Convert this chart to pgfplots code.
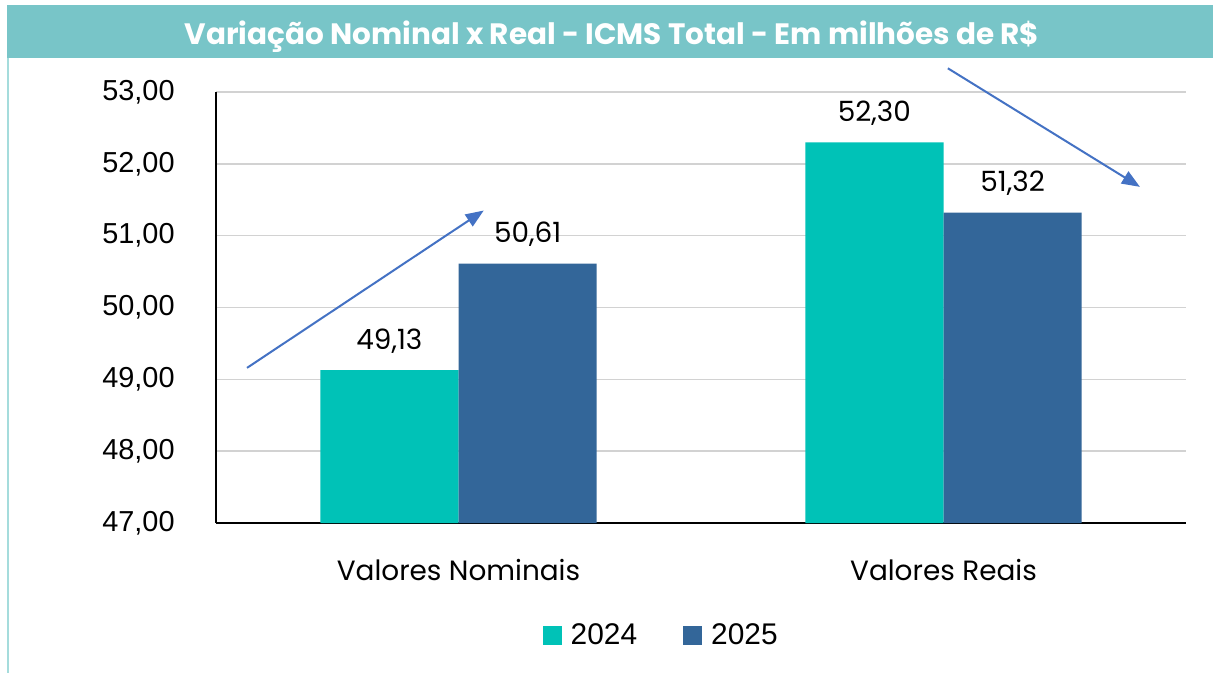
\documentclass[border=0pt]{standalone}
\usepackage{fontspec}
\setmainfont{Poppins}
\newfontfamily\arial{Liberation Sans}
\usepackage{pgfplots}
\pgfplotsset{compat=1.18}
\usetikzlibrary{arrows.meta}
\definecolor{barA}{RGB}{0,194,183}
\definecolor{barB}{RGB}{51,102,153}
\definecolor{titlebar}{RGB}{120,197,200}
\definecolor{edge}{RGB}{165,220,220}
\definecolor{arrowc}{RGB}{68,114,196}
\definecolor{gridc}{RGB}{210,210,210}

\begin{document}
\begin{tikzpicture}
\path[use as bounding box, fill=white] (0,0) rectangle (606.5bp,-336.5bp);
% title bar and frame
\fill[titlebar] (3.5bp,-2.5bp) rectangle (606.5bp,-28.8bp);
\draw[edge, line width=0.8bp] (3.9bp,-28.8bp) -- (3.9bp,-336.5bp);
\node[text=white, font=\bfseries\fontsize{14.8}{17}\selectfont] at (306bp,-18.3bp)
  {Variação Nominal x Real - ICMS Total - Em milhões de R\$};

\begin{axis}[
  at={(108bp,-261.5bp)}, anchor=south west,
  scale only axis, width=485bp, height=215.5bp,
  xmin=-0.5, xmax=1.5, ymin=47, ymax=53,
  ytick={47,48,...,53},
  xtick={0,1},
  xticklabels={Valores Nominais,Valores Reais},
  axis x line*=bottom, axis y line*=left,
  axis line style={black, line width=0.6bp},
  major tick length=0pt,
  ymajorgrids, grid style={gridc, line width=0.7bp},
  yticklabel={\pgfmathprintnumber[fixed,fixed zerofill,precision=2,use comma,assume math mode=true]{\tick}},
  yticklabel style={font=\arial\fontsize{14.5}{16}\selectfont, inner sep=0pt, anchor=east, xshift=-20.5bp},
  xticklabel style={font=\fontsize{14}{16}\selectfont, anchor=center, yshift=-23.5bp},
  ybar, bar width=0.285,
  point meta=explicit symbolic,
  nodes near coords,
  nodes near coords style={font=\fontsize{14}{16}\selectfont, anchor=center, yshift=14.5bp, black},
  clip=false,
  legend columns=2,
  legend style={draw=none, at={(0.46,-0.26)}, anchor=center,
    font=\arial\fontsize{15}{17}\selectfont,
    /tikz/every even column/.append style={column sep=21bp}},
  legend image code/.code={\fill[#1] (0bp,-4.75bp) rectangle (9.5bp,4.75bp); \path (12bp,0bp);},
]
\addplot[fill=barA, draw=none, bar shift=-0.1425] coordinates {(0,49.13) [49,13] (1,52.30) [52,30]};
\addplot[fill=barB, draw=none, bar shift=0.1425] coordinates {(0,50.61) [50,61] (1,51.32) [51,32]};
\legend{2024,2025}
\draw[arrowc, line width=1bp, -{Triangle[length=9bp,width=7bp]}] (axis cs:-0.436,49.16) -- (axis cs:0.052,51.35);
\draw[arrowc, line width=1bp, -{Triangle[length=9bp,width=7bp]}] (axis cs:1.009,53.33) -- (axis cs:1.405,51.68);
\end{axis}
\end{tikzpicture}
\end{document}
